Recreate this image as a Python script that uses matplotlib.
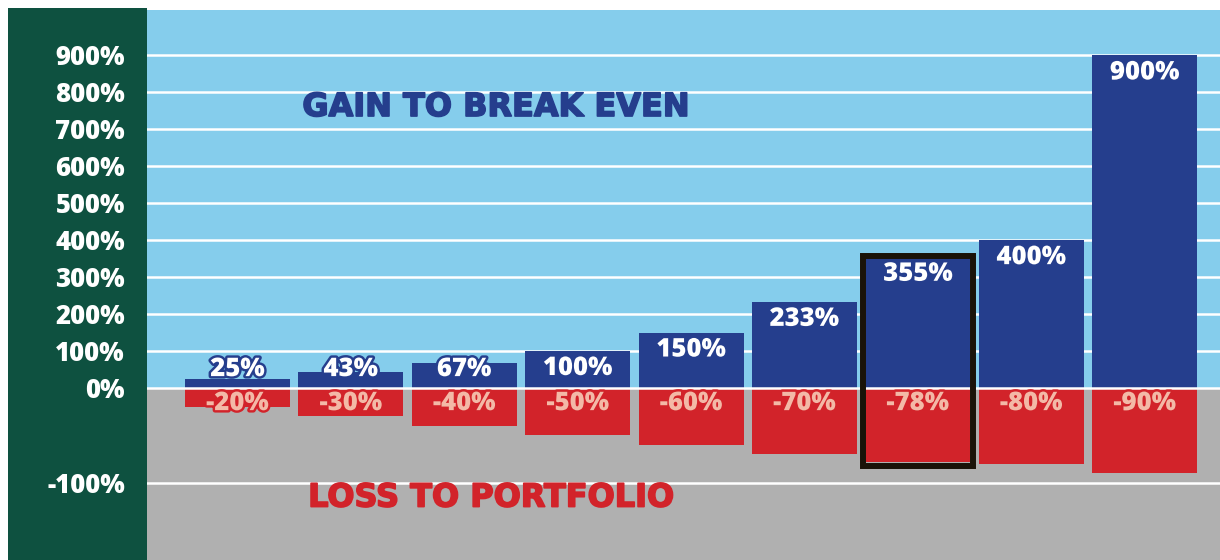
import numpy as np
import matplotlib
matplotlib.use("Agg")
import matplotlib.pyplot as plt
from matplotlib.patches import Rectangle
import matplotlib.patheffects as pe

# ---- data ----
losses = [-20, -30, -40, -50, -60, -70, -78, -80, -90]
gains = [25, 43, 67, 100, 150, 233, 355, 400, 900]
gain_labels = ["25%", "43%", "67%", "100%", "150%", "233%", "355%", "400%", "900%"]
loss_labels = ["-20%", "-30%", "-40%", "-50%", "-60%", "-70%", "-78%", "-80%", "-90%"]
yticks = [-100, 0, 100, 200, 300, 400, 500, 600, 700, 800, 900]
ytick_labels = ["-100%", "0%", "100%", "200%", "300%", "400%", "500%", "600%", "700%", "800%", "900%"]
highlight_index = 6
gain_title = "GAIN TO BREAK EVEN"
loss_title = "LOSS TO PORTFOLIO"

# ---- style ----
GREEN = "#0e5140"
SKY = "#85cdec"
GRAY = "#b0b0b0"
BLUE = "#253e8d"
RED = "#d2232a"
SALMON = "#f3b9a7"
NUMFONT = "Open Sans"
NUMSIZE = 18.5

K = 2.57  # negative side is stretched


def fwd(y):
    y = np.asarray(y, dtype=float)
    return np.where(y >= 0, y, y * K)


def inv(y):
    y = np.asarray(y, dtype=float)
    return np.where(y >= 0, y, y / K)


W, H = 1220, 560
fig = plt.figure(figsize=(W / 100, H / 100), dpi=100)
fig.patch.set_facecolor("white")
fig.add_artist(Rectangle((8 / W, 0), (147 - 8) / W, (H - 8) / H,
                         transform=fig.transFigure, facecolor=GREEN,
                         edgecolor="none", zorder=0))

ax = fig.add_axes([147 / W, 0, (W - 147) / W, (H - 10) / H])
ax.set_yscale("function", functions=(fwd, inv))
ymin, ymax = -181.2, 1023
ax.set_xlim(-0.798, 8.664)
ax.set_ylim(ymin, ymax)
ax.set_facecolor(GRAY)
ax.axhspan(0, ymax, color=SKY, zorder=0, lw=0)

for t in yticks:
    if t != 0:
        ax.axhline(t, color="white", lw=1.8, zorder=1)

x = np.arange(len(gains))
bw = 0.926
ax.bar(x, gains, width=bw, color=BLUE, zorder=2, lw=0)
ax.bar(x, losses, width=bw, color=RED, zorder=2, lw=0)
ax.axhline(0, color="white", lw=1.8, zorder=3)

for i, (g, l) in enumerate(zip(gains, losses)):
    ax.text(i, max(g - 46, 51), gain_labels[i], ha="center", va="center",
            color="white", fontsize=NUMSIZE, fontweight="heavy", family=NUMFONT,
            zorder=5, path_effects=[pe.withStroke(linewidth=3.5, foreground=BLUE)])
    ax.text(i, -16, loss_labels[i], ha="center", va="center",
            color=SALMON, fontsize=NUMSIZE, fontweight="heavy", family=NUMFONT,
            zorder=5, path_effects=[pe.withStroke(linewidth=3.5, foreground=RED)])

hi = highlight_index
ax.add_patch(Rectangle((hi - 0.485, losses[hi] - 4), 0.97, gains[hi] - losses[hi] + 5,
                       fill=False, edgecolor="#1a1309", lw=4.3, zorder=6))

ax.text(2.28, 759, gain_title, ha="center", va="center", color=BLUE,
        fontsize=23, fontweight="bold", family="DejaVu Sans", zorder=5,
        path_effects=[pe.withStroke(linewidth=1.2, foreground=BLUE)])
ax.text(2.24, -116, loss_title, ha="center", va="center", color=RED,
        fontsize=23, fontweight="bold", family="DejaVu Sans", zorder=5,
        path_effects=[pe.withStroke(linewidth=1.2, foreground=RED)])

ax.set_yticks(yticks)
ax.set_yticklabels(ytick_labels)
ax.set_xticks([])
ax.tick_params(axis="y", length=0, pad=16, labelcolor="white", labelsize=NUMSIZE)
for lab in ax.get_yticklabels():
    lab.set_fontweight("heavy")
    lab.set_family(NUMFONT)
for s in ax.spines.values():
    s.set_visible(False)

fig.savefig("out.png", dpi=100)
